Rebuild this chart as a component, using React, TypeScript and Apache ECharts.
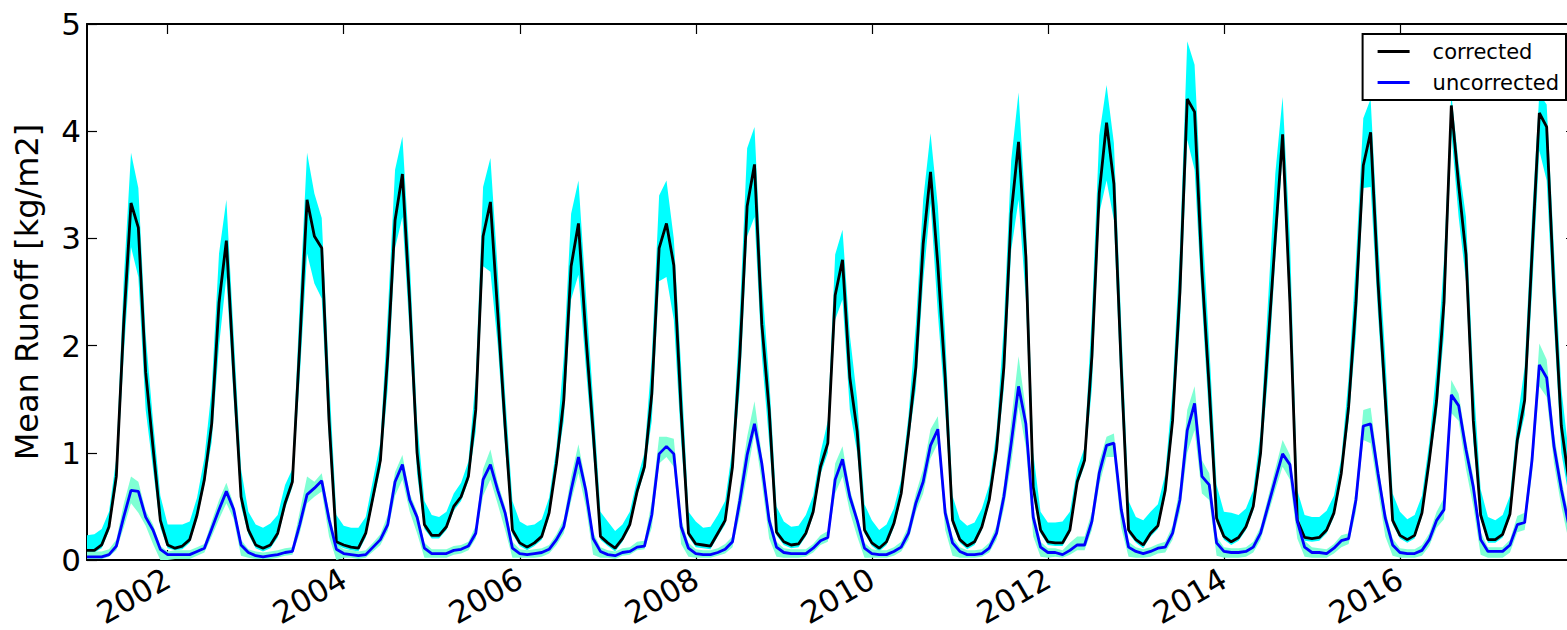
import React, { useEffect, useRef } from "react";
import * as echarts from "echarts";

// Monthly series, first point Feb 2001, last point Jan 2018
const START_YEAR = 2001;
const START_MONTH = 2;

const xTickYears = [2002, 2004, 2006, 2008, 2010, 2012, 2014, 2016];
const yTicks = [0, 1, 2, 3, 4, 5];

const corrected = [
  0.09, 0.09, 0.14, 0.31, 0.78, 2.2, 3.33, 3.10, 1.75, 1.05, 0.37, 0.14,
  0.11, 0.13, 0.19, 0.42, 0.75, 1.27, 2.4, 2.98, 1.75, 0.59, 0.28, 0.14,
  0.11, 0.14, 0.25, 0.53, 0.73, 2.0, 3.36, 3.02, 2.91, 1.3, 0.17, 0.14,
  0.12, 0.11, 0.25, 0.59, 0.93, 1.9, 3.17, 3.60, 2.4, 1.0, 0.33, 0.23,
  0.23, 0.31, 0.50, 0.59, 0.78, 1.40, 3.02, 3.34, 2.3, 1.25, 0.28, 0.16,
  0.12, 0.16, 0.22, 0.44, 0.90, 1.49, 2.74, 3.14, 2.1, 1.2, 0.22, 0.16,
  0.11, 0.20, 0.33, 0.64, 0.87, 1.55, 2.91, 3.14, 2.75, 1.4, 0.25, 0.15,
  0.14, 0.13, 0.25, 0.37, 0.87, 1.9, 3.30, 3.69, 2.2, 1.4, 0.26, 0.17,
  0.14, 0.15, 0.25, 0.45, 0.87, 1.09, 2.47, 2.80, 1.7, 1.2, 0.28, 0.16,
  0.11, 0.17, 0.34, 0.62, 1.18, 1.8, 2.95, 3.62, 2.75, 1.7, 0.37, 0.19,
  0.13, 0.17, 0.31, 0.56, 1.03, 1.8, 3.23, 3.90, 2.83, 0.68, 0.28, 0.17,
  0.16, 0.16, 0.28, 0.73, 0.93, 1.9, 3.42, 4.08, 3.51, 1.8, 0.28, 0.19,
  0.14, 0.25, 0.32, 0.65, 1.3, 2.5, 4.30, 4.18, 2.7, 1.6, 0.39, 0.22,
  0.17, 0.21, 0.31, 0.50, 1.0, 2.0, 3.0, 3.97, 2.4, 0.37, 0.21, 0.20,
  0.21, 0.28, 0.44, 0.81, 1.43, 2.4, 3.68, 3.99, 2.6, 1.5, 0.37, 0.23,
  0.19, 0.23, 0.44, 0.93, 1.49, 2.4, 4.24, 3.5, 2.85, 1.3, 0.42, 0.19,
  0.19, 0.24, 0.43, 1.12, 1.49, 2.85, 4.17, 4.04, 2.5, 1.25, 0.75, 0.3,
];

const correctedHigh = [
  0.23, 0.24, 0.29, 0.45, 0.95, 2.6, 3.80, 3.47, 2.1, 1.3, 0.6, 0.33,
  0.33, 0.33, 0.36, 0.58, 0.95, 1.6, 2.86, 3.36, 2.1, 0.85, 0.45, 0.33,
  0.30, 0.34, 0.42, 0.70, 0.85, 2.4, 3.80, 3.42, 3.19, 1.7, 0.42, 0.32,
  0.30, 0.30, 0.40, 0.75, 1.1, 2.3, 3.64, 3.95, 2.8, 1.3, 0.55, 0.42,
  0.40, 0.45, 0.62, 0.72, 0.92, 1.7, 3.48, 3.75, 2.7, 1.55, 0.55, 0.36,
  0.32, 0.33, 0.38, 0.58, 1.05, 1.9, 3.23, 3.54, 2.5, 1.5, 0.45, 0.36,
  0.27, 0.33, 0.45, 0.75, 1.0, 1.9, 3.40, 3.54, 3.00, 1.8, 0.45, 0.36,
  0.30, 0.31, 0.42, 0.55, 1.05, 2.3, 3.84, 4.04, 2.6, 1.7, 0.50, 0.36,
  0.31, 0.32, 0.42, 0.60, 1.0, 1.3, 2.85, 3.08, 2.1, 1.5, 0.52, 0.37,
  0.28, 0.33, 0.48, 0.75, 1.35, 2.2, 3.36, 3.98, 3.3, 2.1, 0.6, 0.38,
  0.32, 0.35, 0.48, 0.70, 1.2, 2.2, 3.73, 4.36, 3.2, 1.0, 0.45, 0.35,
  0.35, 0.36, 0.45, 0.85, 1.05, 2.3, 3.96, 4.43, 3.89, 2.2, 0.55, 0.40,
  0.37, 0.45, 0.52, 0.80, 1.6, 2.9, 4.84, 4.62, 3.2, 2.0, 0.7, 0.45,
  0.44, 0.42, 0.48, 0.65, 1.2, 2.4, 3.6, 4.32, 3.0, 0.65, 0.42, 0.40,
  0.40, 0.46, 0.60, 0.95, 1.7, 2.8, 4.12, 4.30, 3.0, 1.9, 0.62, 0.45,
  0.38, 0.42, 0.60, 1.1, 1.8, 2.8, 4.35, 3.7, 3.2, 1.7, 0.66, 0.40,
  0.37, 0.42, 0.60, 1.3, 1.8, 3.2, 4.35, 4.25, 2.9, 1.6, 1.0, 0.5,
];

const correctedLow = [
  0.07, 0.07, 0.11, 0.27, 0.70, 1.9, 2.92, 2.64, 1.4, 0.85, 0.30, 0.11,
  0.09, 0.10, 0.16, 0.38, 0.70, 1.1, 2.0, 2.64, 1.5, 0.5, 0.24, 0.11,
  0.08, 0.11, 0.21, 0.48, 0.68, 1.7, 2.86, 2.58, 2.44, 1.1, 0.14, 0.11,
  0.09, 0.08, 0.21, 0.54, 0.85, 1.6, 2.91, 3.20, 2.1, 0.8, 0.29, 0.20,
  0.20, 0.28, 0.46, 0.55, 0.74, 1.2, 2.74, 2.69, 2.0, 1.05, 0.24, 0.13,
  0.09, 0.13, 0.19, 0.40, 0.85, 1.3, 2.43, 2.66, 1.8, 1.0, 0.19, 0.13,
  0.08, 0.17, 0.30, 0.60, 0.82, 1.3, 2.60, 2.64, 2.24, 1.1, 0.22, 0.12,
  0.11, 0.10, 0.22, 0.33, 0.82, 1.6, 3.02, 3.20, 1.9, 1.1, 0.23, 0.14,
  0.11, 0.12, 0.22, 0.41, 0.80, 1.0, 2.24, 2.43, 1.4, 1.0, 0.25, 0.13,
  0.08, 0.14, 0.30, 0.58, 1.1, 1.6, 2.6, 3.33, 2.3, 1.4, 0.33, 0.16,
  0.10, 0.14, 0.28, 0.52, 0.95, 1.6, 2.89, 3.36, 2.43, 0.6, 0.25, 0.14,
  0.13, 0.13, 0.25, 0.69, 0.88, 1.6, 3.23, 3.54, 3.17, 1.5, 0.25, 0.16,
  0.11, 0.22, 0.29, 0.60, 1.2, 2.2, 3.92, 3.64, 2.4, 1.3, 0.35, 0.19,
  0.14, 0.18, 0.28, 0.46, 0.9, 1.7, 2.8, 3.79, 2.2, 0.33, 0.18, 0.17,
  0.18, 0.25, 0.40, 0.76, 1.3, 2.1, 3.47, 3.48, 2.3, 1.3, 0.33, 0.20,
  0.16, 0.20, 0.40, 0.88, 1.35, 2.1, 3.98, 3.2, 2.6, 1.1, 0.38, 0.16,
  0.16, 0.21, 0.40, 1.05, 1.35, 2.5, 3.82, 3.54, 2.2, 1.0, 0.6, 0.25,
];

const uncorrected = [
  0.03, 0.03, 0.03, 0.05, 0.13, 0.40, 0.65, 0.64, 0.40, 0.28, 0.10, 0.05,
  0.05, 0.05, 0.05, 0.08, 0.11, 0.29, 0.47, 0.64, 0.47, 0.14, 0.07, 0.04,
  0.03, 0.04, 0.05, 0.07, 0.08, 0.33, 0.61, 0.67, 0.74, 0.38, 0.10, 0.06,
  0.05, 0.04, 0.05, 0.12, 0.19, 0.33, 0.73, 0.89, 0.56, 0.40, 0.11, 0.06,
  0.06, 0.06, 0.09, 0.10, 0.13, 0.25, 0.75, 0.89, 0.65, 0.44, 0.11, 0.06,
  0.05, 0.06, 0.07, 0.10, 0.19, 0.31, 0.65, 0.96, 0.65, 0.20, 0.08, 0.05,
  0.04, 0.07, 0.08, 0.12, 0.13, 0.42, 0.99, 1.06, 0.99, 0.31, 0.11, 0.06,
  0.05, 0.05, 0.07, 0.10, 0.17, 0.55, 0.98, 1.27, 0.90, 0.37, 0.12, 0.07,
  0.06, 0.06, 0.06, 0.11, 0.18, 0.21, 0.75, 0.94, 0.59, 0.37, 0.11, 0.06,
  0.05, 0.05, 0.08, 0.12, 0.25, 0.53, 0.73, 1.07, 1.22, 0.44, 0.16, 0.08,
  0.05, 0.05, 0.06, 0.11, 0.25, 0.59, 1.09, 1.62, 1.27, 0.40, 0.12, 0.07,
  0.07, 0.05, 0.09, 0.14, 0.14, 0.36, 0.81, 1.07, 1.09, 0.47, 0.12, 0.08,
  0.06, 0.08, 0.11, 0.12, 0.25, 0.56, 1.21, 1.46, 0.78, 0.70, 0.16, 0.08,
  0.07, 0.07, 0.08, 0.12, 0.25, 0.50, 0.75, 0.99, 0.89, 0.36, 0.12, 0.07,
  0.07, 0.06, 0.11, 0.18, 0.20, 0.56, 1.25, 1.27, 0.81, 0.39, 0.14, 0.07,
  0.06, 0.06, 0.09, 0.19, 0.37, 0.47, 1.54, 1.44, 1.03, 0.68, 0.19, 0.08,
  0.08, 0.08, 0.14, 0.33, 0.35, 0.93, 1.82, 1.70, 1.06, 0.66, 0.33, 0.20,
];

const uncorrectedHigh = [
  0.08, 0.08, 0.08, 0.10, 0.19, 0.52, 0.78, 0.73, 0.46, 0.33, 0.13, 0.08,
  0.09, 0.09, 0.09, 0.12, 0.15, 0.36, 0.56, 0.72, 0.52, 0.19, 0.10, 0.08,
  0.07, 0.08, 0.09, 0.11, 0.12, 0.45, 0.78, 0.73, 0.81, 0.45, 0.15, 0.10,
  0.09, 0.08, 0.09, 0.16, 0.24, 0.42, 0.82, 0.98, 0.62, 0.45, 0.16, 0.10,
  0.10, 0.10, 0.13, 0.14, 0.17, 0.32, 0.85, 1.03, 0.72, 0.50, 0.17, 0.10,
  0.09, 0.10, 0.11, 0.14, 0.24, 0.38, 0.78, 1.08, 0.72, 0.26, 0.12, 0.09,
  0.08, 0.11, 0.12, 0.17, 0.18, 0.55, 1.15, 1.15, 1.13, 0.38, 0.16, 0.10,
  0.09, 0.09, 0.11, 0.15, 0.22, 0.68, 1.15, 1.48, 0.98, 0.44, 0.17, 0.11,
  0.10, 0.10, 0.10, 0.15, 0.23, 0.27, 0.90, 1.06, 0.66, 0.42, 0.16, 0.10,
  0.09, 0.09, 0.12, 0.17, 0.32, 0.62, 0.85, 1.22, 1.34, 0.52, 0.22, 0.12,
  0.09, 0.09, 0.10, 0.16, 0.32, 0.70, 1.30, 1.90, 1.40, 0.48, 0.17, 0.11,
  0.11, 0.09, 0.16, 0.22, 0.22, 0.45, 0.92, 1.15, 1.18, 0.55, 0.17, 0.12,
  0.10, 0.12, 0.15, 0.17, 0.32, 0.68, 1.40, 1.62, 0.93, 0.81, 0.22, 0.12,
  0.11, 0.11, 0.12, 0.17, 0.31, 0.58, 0.85, 1.12, 0.98, 0.45, 0.18, 0.12,
  0.11, 0.10, 0.15, 0.23, 0.25, 0.66, 1.40, 1.42, 0.90, 0.46, 0.20, 0.11,
  0.10, 0.10, 0.14, 0.25, 0.45, 0.58, 1.68, 1.55, 1.12, 0.78, 0.26, 0.12,
  0.12, 0.12, 0.19, 0.41, 0.44, 1.05, 2.02, 1.87, 1.18, 0.76, 0.42, 0.28,
];

const uncorrectedLow = [
  0.01, 0.01, 0.01, 0.03, 0.09, 0.30, 0.53, 0.44, 0.32, 0.15, 0.0, 0.0,
  0.01, 0.01, 0.01, 0.04, 0.07, 0.22, 0.38, 0.53, 0.38, 0.04, 0.02, 0.01,
  0.01, 0.01, 0.02, 0.04, 0.05, 0.25, 0.53, 0.59, 0.64, 0.22, 0.0, 0.02,
  0.02, 0.01, 0.02, 0.08, 0.14, 0.27, 0.60, 0.75, 0.45, 0.25, 0.02, 0.02,
  0.02, 0.02, 0.05, 0.06, 0.09, 0.20, 0.60, 0.75, 0.52, 0.28, 0.02, 0.02,
  0.02, 0.02, 0.03, 0.06, 0.14, 0.25, 0.55, 0.81, 0.50, 0.05, 0.02, 0.02,
  0.01, 0.04, 0.05, 0.09, 0.10, 0.30, 0.90, 0.96, 0.87, 0.15, 0.03, 0.02,
  0.02, 0.02, 0.04, 0.06, 0.12, 0.42, 0.80, 1.18, 0.72, 0.20, 0.03, 0.02,
  0.02, 0.02, 0.03, 0.07, 0.14, 0.17, 0.62, 0.78, 0.45, 0.22, 0.02, 0.02,
  0.02, 0.02, 0.04, 0.08, 0.19, 0.45, 0.62, 0.95, 1.09, 0.28, 0.04, 0.02,
  0.02, 0.02, 0.03, 0.07, 0.19, 0.48, 0.90, 1.43, 1.05, 0.22, 0.03, 0.02,
  0.03, 0.02, 0.05, 0.09, 0.09, 0.28, 0.70, 0.96, 0.96, 0.30, 0.03, 0.02,
  0.02, 0.03, 0.06, 0.07, 0.19, 0.45, 1.00, 1.21, 0.62, 0.56, 0.04, 0.02,
  0.02, 0.02, 0.03, 0.07, 0.19, 0.42, 0.65, 0.87, 0.75, 0.20, 0.03, 0.02,
  0.02, 0.02, 0.06, 0.12, 0.15, 0.45, 1.12, 1.09, 0.65, 0.22, 0.04, 0.02,
  0.02, 0.02, 0.04, 0.13, 0.30, 0.38, 1.37, 1.30, 0.85, 0.50, 0.05, 0.02,
  0.02, 0.02, 0.07, 0.26, 0.28, 0.80, 1.62, 1.52, 0.90, 0.50, 0.18, 0.08,
];

const months = corrected.map((_, k) => {
  const m = START_MONTH - 1 + k;
  const y = START_YEAR + Math.floor(m / 12);
  const mm = (m % 12) + 1;
  return `${y}-${String(mm).padStart(2, "0")}`;
});

const tickKeys = xTickYears.map((y) => `${y}-01`);
const isTick = (_i: number, v: string) => tickKeys.includes(v);

const FONT = "DejaVu Sans";

export default function App() {
  const ref = useRef<HTMLDivElement>(null);

  useEffect(() => {
    if (!ref.current) return;
    const chart = echarts.init(ref.current, undefined, { renderer: "svg" });

    const span = (hi: number[], lo: number[]) =>
      hi.map((v, k) => +(v - lo[k]).toFixed(3));

    const xBase = {
      type: "category",
      data: months,
      boundaryGap: false,
      axisLine: {
        show: true,
        onZero: false,
        lineStyle: { color: "#000", width: 2 },
      },
      axisTick: {
        show: true,
        inside: true,
        length: 10,
        interval: isTick,
        lineStyle: { color: "#000", width: 1.2 },
      },
      splitLine: { show: false },
    };
    const yBase = {
      type: "value",
      min: 0,
      max: 5,
      interval: 1,
      axisLine: {
        show: true,
        onZero: false,
        lineStyle: { color: "#000", width: 2 },
      },
      axisTick: {
        show: true,
        inside: true,
        length: 10,
        lineStyle: { color: "#000", width: 1.2 },
      },
      splitLine: { show: false },
    };

    const bandCommon = {
      type: "line",
      symbol: "none",
      silent: true,
      lineStyle: { width: 0, opacity: 0 },
      z: 1,
    };

    chart.setOption({
      animation: false,
      backgroundColor: "#ffffff",
      textStyle: { fontFamily: FONT },
      grid: {
        left: 87,
        right: 14,
        top: 24,
        bottom: 70,
        containLabel: false,
        outerBoundsMode: "none",
      },
      legend: {
        data: ["corrected", "uncorrected"],
        orient: "vertical",
        right: 24,
        top: 34,
        padding: [7, 7, 7, 15],
        itemGap: 10,
        itemWidth: 32,
        itemHeight: 3,
        icon: "rect",
        backgroundColor: "#ffffff",
        borderColor: "#000",
        borderWidth: 2,
        borderRadius: 0,
        textStyle: {
          fontFamily: FONT,
          fontSize: 21,
          lineHeight: 21,
          color: "#000",
          padding: [0, 0, 0, 18],
        },
      },
      xAxis: [
        {
          ...xBase,
          position: "bottom",
          axisLabel: {
            show: true,
            interval: isTick,
            rotate: 30,
            margin: 16,
            formatter: (v: string) => v.slice(0, 4),
            fontFamily: FONT,
            fontSize: 31,
            color: "#000",
          },
        },
        {
          ...xBase,
          position: "top",
          axisLabel: { show: false },
        },
      ],
      yAxis: [
        {
          ...yBase,
          position: "left",
          name: "Mean Runoff [kg/m2]",
          nameLocation: "middle",
          nameRotate: 90,
          nameGap: 44,
          nameTextStyle: { fontFamily: FONT, fontSize: 32, color: "#000" },
          axisLabel: {
            show: true,
            margin: 6,
            fontFamily: FONT,
            fontSize: 31,
            color: "#000",
            customValues: yTicks,
          },
        },
        {
          ...yBase,
          position: "right",
          axisLabel: { show: false },
        },
      ],
      series: [
        { ...bandCommon, name: "cLow", stack: "cb", data: correctedLow },
        {
          ...bandCommon,
          name: "cSpan",
          stack: "cb",
          data: span(correctedHigh, correctedLow),
          areaStyle: { color: "#00ffff", opacity: 1 },
        },
        { ...bandCommon, name: "uLow", stack: "ub", data: uncorrectedLow },
        {
          ...bandCommon,
          name: "uSpan",
          stack: "ub",
          data: span(uncorrectedHigh, uncorrectedLow),
          areaStyle: { color: "#7fffd4", opacity: 1 },
        },
        {
          name: "corrected",
          type: "line",
          data: corrected,
          symbol: "none",
          color: "#000000",
          lineStyle: { color: "#000000", width: 2.8 },
          z: 3,
        },
        {
          name: "uncorrected",
          type: "line",
          data: uncorrected,
          symbol: "none",
          color: "#0000ff",
          lineStyle: { color: "#0000ff", width: 2.8 },
          z: 4,
        },
      ],
    });

    return () => chart.dispose();
  }, []);

  return (
    <div
      style={{
        position: "fixed",
        left: 0,
        top: 0,
        width: 1567,
        height: 630,
        overflow: "hidden",
        background: "#fff",
      }}
    >
      <div ref={ref} style={{ width: 1590, height: 630 }} />
    </div>
  );
}
